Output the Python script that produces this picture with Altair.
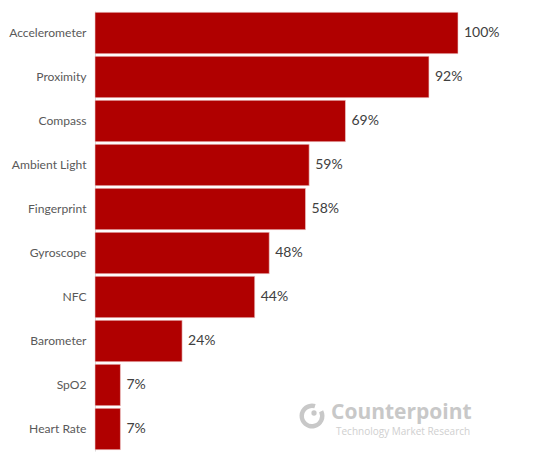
import altair as alt
import pandas as pd

# data
sensors = ["Accelerometer", "Proximity", "Compass", "Ambient Light", "Fingerprint",
           "Gyroscope", "NFC", "Barometer", "SpO2", "Heart Rate"]
shares = [100, 92, 69, 59, 58, 48, 44, 24, 7, 7]

df = pd.DataFrame({"sensor": sensors, "share": shares})
df["label"] = df["share"].astype(str) + "%"

y = alt.Y("sensor:N", sort=sensors, title=None,
          scale=alt.Scale(paddingInner=0.06, paddingOuter=0.03),
          axis=alt.Axis(ticks=False, labelFont="Lato", labelFontSize=12.1,
                        labelColor="#595959", labelPadding=9, labelLimit=300,
                        domainColor="#d9d9d9"))
x = alt.X("share:Q", scale=alt.Scale(domain=[0, 100]), axis=None)

# bars
bars = alt.Chart(df).mark_bar(color="#b00000", stroke="#f0d0d0", strokeWidth=0.6).encode(x=x, y=y)

# value labels
text = alt.Chart(df).mark_text(align="left", dx=6, font="Lato", fontSize=14,
                               color="#404040").encode(x=x, y=y, text="label:N")

# watermark
brand = alt.Chart(pd.DataFrame({"t": ["Counterpoint"]})).mark_text(
    align="left", baseline="middle", font="Open Sans", fontSize=21, fontWeight="bold",
    color="#c8c8c8"
).encode(x=alt.value(236), y=alt.value(402), text="t:N")

tagline = alt.Chart(pd.DataFrame({"t": ["Technology Market Research"]})).mark_text(
    align="left", baseline="middle", font="Open Sans", fontSize=10, color="#cfcfcf"
).encode(x=alt.value(241), y=alt.value(421), text="t:N")

ring = alt.Chart(pd.DataFrame({"t": ["logo"]})).mark_arc(
    innerRadius=8, outerRadius=12.5, theta=1.1, theta2=6.58, color="#c8c8c8"
).encode(x=alt.value(217), y=alt.value(405))

dot = alt.Chart(pd.DataFrame({"t": ["logo"]})).mark_circle(size=28, color="#c8c8c8", opacity=1).encode(
    x=alt.value(219), y=alt.value(402))

chart = alt.layer(bars, text, brand, tagline, ring, dot).properties(
    width=363, height=440,
    autosize=alt.AutoSizeParams(type="none"),
    padding={"left": 87, "top": 3, "right": 68, "bottom": 3}
).configure_view(stroke=None)

chart.save("out.html", embed_options={"renderer": "svg", "actions": False})
